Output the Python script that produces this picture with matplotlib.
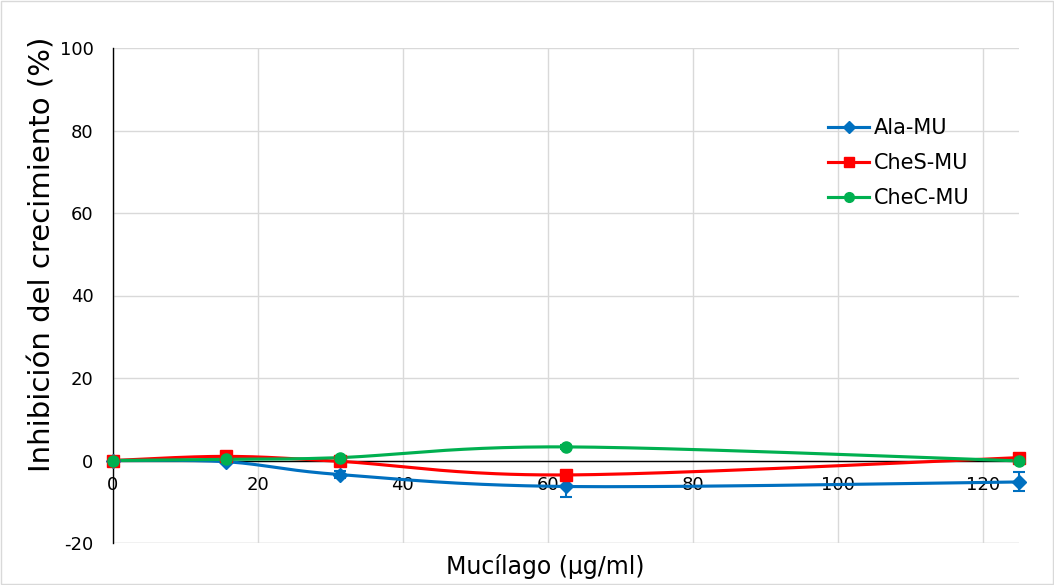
import numpy as np
import matplotlib
matplotlib.use("Agg")
import matplotlib.pyplot as plt
from matplotlib.patches import Rectangle

# ----------------------------
# Data
# ----------------------------
concentrations = [0, 15.625, 31.25, 62.5, 125]
series_names = ["Ala-MU", "CheS-MU", "CheC-MU"]
ala_mu = [0.0, -0.3, -3.4, -6.3, -5.2]
ches_mu = [0.0, 1.0, -0.2, -3.5, 0.7]
chec_mu = [0.0, 0.3, 0.7, 3.3, -0.1]
ala_err = [0.3, 0.4, 0.8, 2.5, 2.3]
ches_err = [0.2, 0.3, 0.4, 0.5, 0.4]
chec_err = [0.2, 0.3, 0.3, 0.4, 0.3]

x_ticks = [0, 20, 40, 60, 80, 100, 120]
y_ticks = [-20, 0, 20, 40, 60, 80, 100]

colors = ["#0070C0", "#FF0000", "#00B050"]
markers = ["D", "s", "o"]
msizes = [7, 8, 8]

plt.rcParams["axes.unicode_minus"] = False


def smooth_curve(xs, ys, n=40):
    """Excel-style smoothed line: cubic Bezier segments through the points."""
    p = np.column_stack([xs, ys]).astype(float)
    pts = [p[0]]
    for i in range(len(p) - 1):
        p0 = p[i - 1] if i > 0 else p[i]
        p1, p2 = p[i], p[i + 1]
        p3 = p[i + 2] if i + 2 < len(p) else p[i + 1]
        c1 = p1 + (p2 - p0) / 6.0
        c2 = p2 - (p3 - p1) / 6.0
        t = np.linspace(0, 1, n)[1:, None]
        seg = ((1 - t) ** 3) * p1 + 3 * ((1 - t) ** 2) * t * c1 \
            + 3 * (1 - t) * t ** 2 * c2 + t ** 3 * p2
        pts.extend(seg)
    pts = np.array(pts)
    return pts[:, 0], pts[:, 1]


fig = plt.figure(figsize=(10.54, 5.85), dpi=100)
fig.patches.append(Rectangle((0.001, 0.001), 0.998, 0.998, transform=fig.transFigure,
                             fill=False, edgecolor="#D9D9D9", linewidth=1.0))

ax = fig.add_axes([113 / 1054, 1 - 543 / 585, (1019 - 113) / 1054, (543 - 48) / 585])
ax.set_xlim(0, 125)
ax.set_ylim(-20, 100)
ax.set_xticks(x_ticks)
ax.set_yticks(y_ticks)
ax.grid(True, color="#D9D9D9", linewidth=1.0)
ax.set_axisbelow(True)

for s in ["top", "right"]:
    ax.spines[s].set_visible(False)
ax.spines["bottom"].set_position(("data", 0))
ax.spines["bottom"].set_color("black")
ax.spines["left"].set_color("black")
ax.spines["bottom"].set_linewidth(1.0)
ax.spines["left"].set_linewidth(1.0)
ax.axhline(-20, color="#D9D9D9", linewidth=1.0, zorder=0)

ax.tick_params(axis="both", length=0, labelsize=13)
ax.tick_params(axis="x", pad=11)
ax.tick_params(axis="y", pad=14)

all_vals = [ala_mu, ches_mu, chec_mu]
all_errs = [ala_err, ches_err, chec_err]
for name, vals, errs, c, m, ms in zip(series_names, all_vals, all_errs, colors, markers, msizes):
    sx, sy = smooth_curve(concentrations, vals)
    ax.plot(sx, sy, color=c, linewidth=2.25, zorder=3)
    ax.errorbar(concentrations, vals, yerr=errs, fmt="none", ecolor=c,
                elinewidth=1.5, capsize=4, capthick=1.5, zorder=3, clip_on=False)
    ax.plot(concentrations, vals, linestyle="none", marker=m, markersize=ms,
            color=c, zorder=4, clip_on=False)
    ax.plot([], [], color=c, linewidth=2.25, marker=m, markersize=ms - 1, label=name)

ax.set_xlabel("Mucílago (µg/ml)", fontsize=17)
ax.xaxis.set_label_coords(0.477, -0.022)
ax.set_ylabel("Inhibición del crecimiento (%)", fontsize=21)
ax.yaxis.set_label_coords(-0.062, 0.584)

ax.legend(loc="upper left", bbox_to_anchor=(0.78, 0.875), frameon=False,
          fontsize=15, handlelength=1.97, handletextpad=0.25, labelspacing=0.72,
          borderaxespad=0)

fig.savefig("out.png", dpi=100)
